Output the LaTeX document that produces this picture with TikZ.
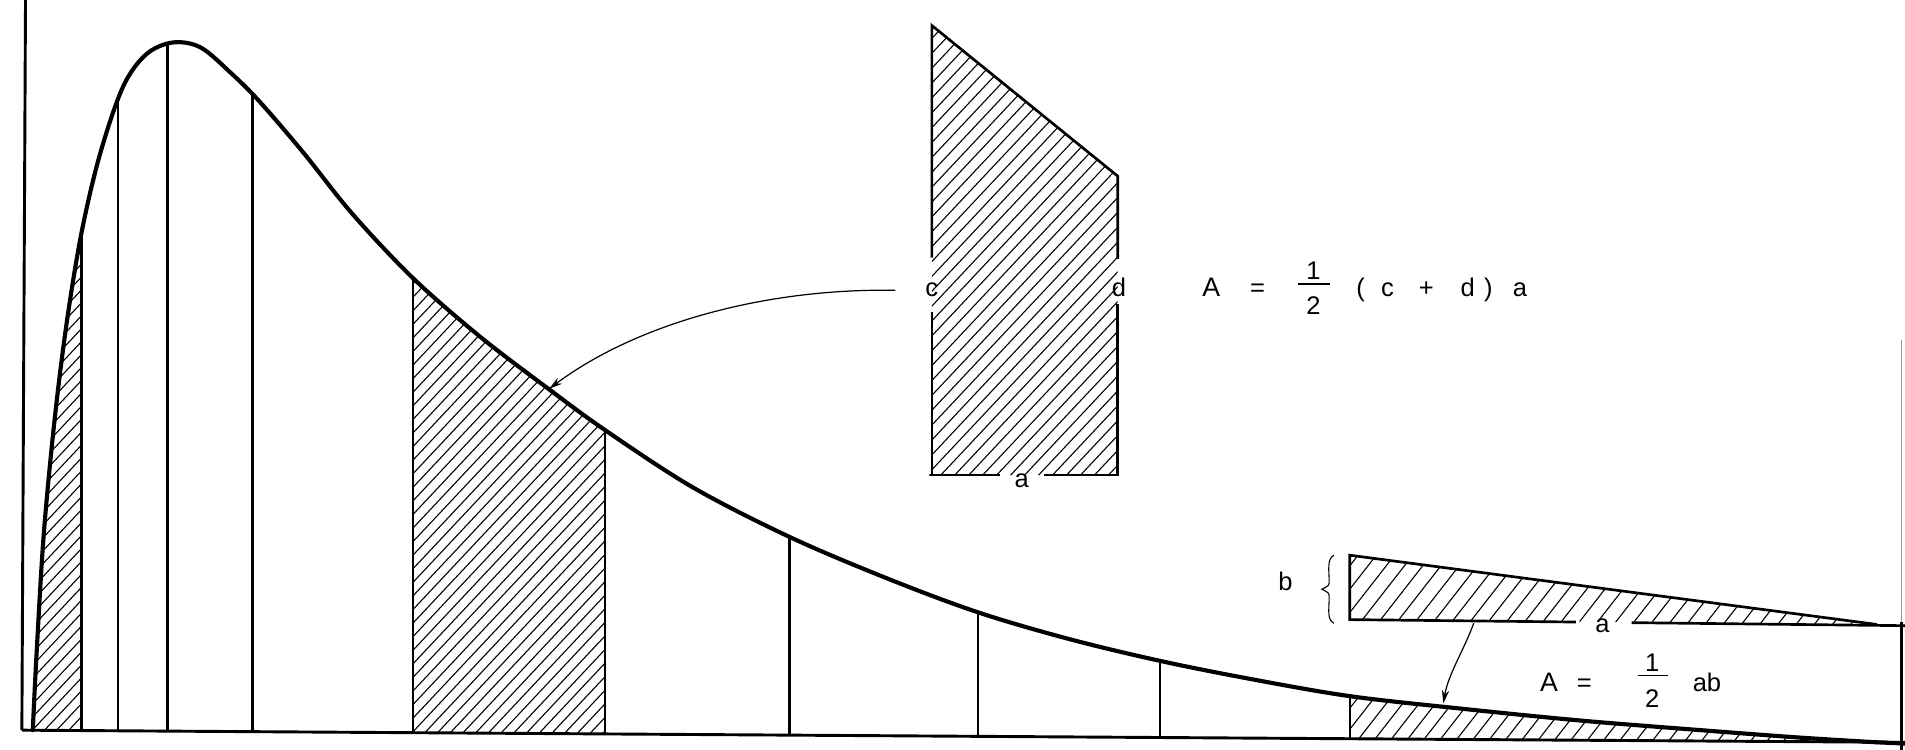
\documentclass[tikz,border=0pt]{standalone}
\usepackage{fontspec}
\setmainfont{Liberation Sans}
\usetikzlibrary{arrows.meta}
\tikzset{
  curvepath/.style={insert path={plot[smooth,tension=0.55] coordinates {(27,601) (30,540) (36,440) (45,345) (55,265) (67,192) (82,128) (101,72) (120,45) (142,35) (165,39) (190,60) (214,84) (250,126) (290,176) (340,229) (395,277) (450,319) (498,354) (570,401) (650,442) (730,476) (805,504) (880,526) (955,544) (1030,559) (1111,573) (1200,583) (1300,593) (1400,601) (1480,607) (1545,611)}}},
  curveline/.style={line width=3.4pt, line join=round, line cap=round},
  ordline/.style={line width=2pt},
  axisline/.style={line width=2.4pt},
  hatchline/.style={line width=0.9pt},
  outline/.style={line width=2.2pt, line join=miter},
  pointer/.style={line width=1pt, -{Stealth[length=11pt,width=6pt]}},
  lbl/.style={font=\fontsize{21}{25}\selectfont, inner sep=0pt, anchor=base},
  fracbar/.style={line width=1.6pt},
}
\newcommand{\hatchfill}[2]{%
  \foreach \k in {-80,...,200} \draw[hatchline] ({\k*#1},640) -- ++(#2,-660);}
\begin{document}
\begin{tikzpicture}[x=1pt,y=-1pt]
\useasboundingbox (0,0) rectangle (1568,617);

% ---- hatching under the curve ----
\begin{scope}
  \clip (0,0) rectangle (67,620);
  \clip[curvepath] -- cycle;
  \hatchfill{10}{620}
\end{scope}
\begin{scope}
  \clip (340,0) rectangle (498,620);
  \clip[curvepath] -- cycle;
  \hatchfill{10.5}{620}
\end{scope}
\begin{scope}
  \clip (1111,0) rectangle (1568,620);
  \clip[curvepath] -- cycle;
  \hatchfill{13.5}{515}
\end{scope}

% ---- ordinates ----
\begin{scope}
  \clip[curvepath] -- cycle;
  \foreach \ox in {67,97,138,208,650,805,955,1111}
    \draw[ordline] (\ox,0) -- (\ox,620);
  \foreach \ox in {340,498}
    \draw[ordline, line width=2.3pt] (\ox,0) -- (\ox,620);
\end{scope}

% ---- axes and curve ----
\coordinate (axtop) at (21,0);
\coordinate (origin) at (18,601);
\coordinate (baseend) at (1568,611);
\draw[axisline] (axtop) -- (origin);
\draw[axisline] (origin) -- (baseend);
\draw[curveline, curvepath];
\draw[curveline] (1545,611) -- (1568,612);

% right border
\coordinate (rb1) at (1565,280);
\coordinate (rb2) at (1565,512);
\coordinate (rb3) at (1565,617);
\draw[line width=1pt, black!40] (rb1) -- (rb2);
\draw[line width=2pt] (rb2) -- (rb3);

% ---- trapezoid detail ----
\begin{scope}
  \clip (767,21) -- (920,145) -- (920,391) -- (767,391) -- cycle;
  \hatchfill{11.5}{620}
\end{scope}
\draw[outline] (767,212) -- (767,21) -- (920,145) -- (920,213);
\draw[outline] (920,250) -- (920,391) -- (859,391);
\draw[outline] (823,391) -- (765,391) -- (767,391) -- (767,257);
\node[lbl] (lc) at (767,244) {c};
\node[lbl] (ld) at (921,244) {d};
\node[lbl] (la) at (841,401) {a};

% formula A = 1/2 (c + d) a
\node[lbl, font=\fontsize{22}{26}\selectfont] (fA) at (997,244) {A};
\node[lbl] (feq) at (1035,244) {=};
\node[lbl] (fone) at (1081,230) {1};
\draw[fracbar] (1068,234) -- (1095,234);
\node[lbl] (ftwo) at (1081,259) {2};
\node[lbl] (flp) at (1120,244) {(};
\node[lbl] (fc) at (1142,244) {c};
\node[lbl] (fpl) at (1174,244) {+};
\node[lbl] (fd) at (1208,244) {d};
\node[lbl] (frp) at (1225,244) {)};
\node[lbl] (fa) at (1251,244) {a};

% arrow from trapezoid to strip
\coordinate (p1s) at (737,239);
\coordinate (p1e) at (452,320);
\draw[pointer] (p1s) .. controls (640,237) and (530,262) .. (p1e);

% ---- enlarged triangle detail ----
\begin{scope}
  \clip (1111,457) -- (1545,514) -- (1111,510) -- cycle;
  \hatchfill{15}{515}
\end{scope}
\draw[outline] (1297,512) -- (1111,510) -- (1111,457) -- (1545,514);
\draw[outline] (1343,512.5) -- (1568,515);
\node[lbl] (tb) at (1319,521) {a};
\node[lbl] (lb) at (1058,486) {b};
\draw[line width=0.9pt] (1098,457) .. controls (1092,460) and (1094,470) .. (1094,478)
  .. controls (1094,482) .. (1088,485) .. controls (1094,488) .. (1094,492)
  .. controls (1094,502) and (1092,510) .. (1098,513);

% formula A = 1/2 ab
\node[lbl, font=\fontsize{22}{26}\selectfont] (gA) at (1275,569) {A};
\node[lbl] (geq) at (1304,569) {=};
\node[lbl] (gone) at (1360,553) {1};
\draw[fracbar] (1348,556) -- (1373,556);
\node[lbl] (gtwo) at (1360,582) {2};
\node[lbl] (gab) at (1405,569) {ab};

% arrow from triangle to lower strip
\coordinate (p2s) at (1213,513);
\coordinate (p2e) at (1188,579);
\draw[pointer] (p2s) .. controls (1205,535) and (1192,555) .. (p2e);
\end{tikzpicture}
\end{document}
